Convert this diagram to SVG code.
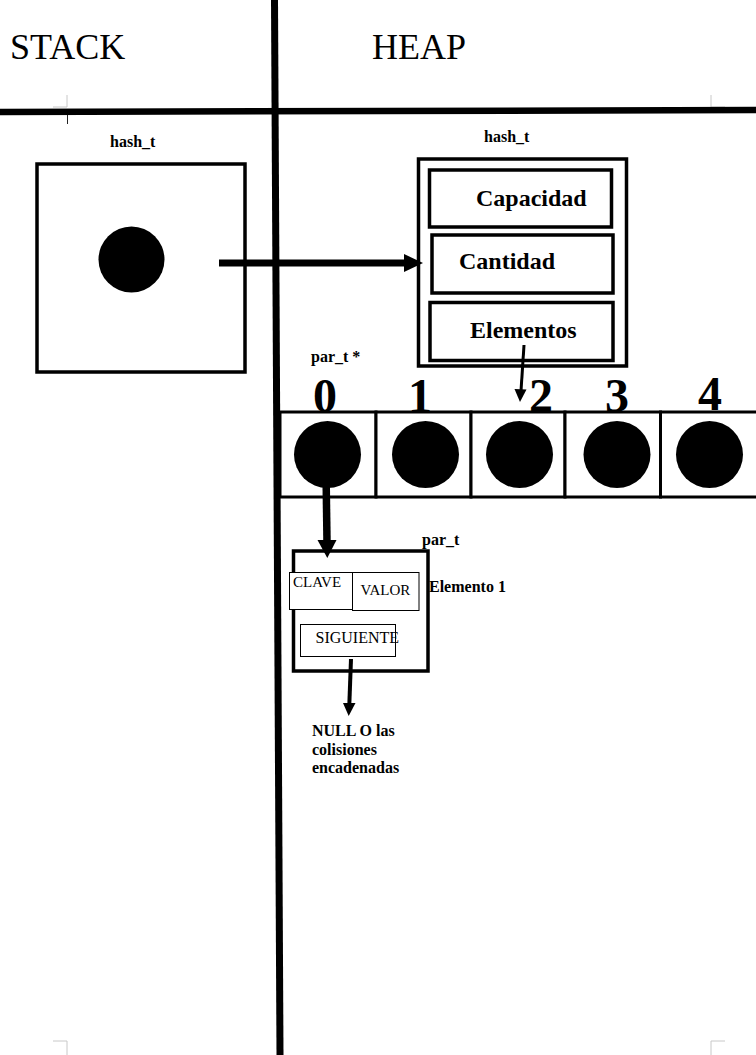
<svg xmlns="http://www.w3.org/2000/svg" width="756" height="1055" viewBox="0 0 756 1055">
  <style>
    .title { font-family: "Liberation Serif", serif; font-size: 36px; fill: #000; }
    .lbl { font-family: "Liberation Serif", serif; font-weight: bold; font-size: 16px; fill: #000; }
    .field { font-family: "Liberation Serif", serif; font-weight: bold; font-size: 24px; fill: #000; }
    .idx { font-family: "Liberation Serif", serif; font-weight: bold; font-size: 48px; fill: #000; text-anchor: middle; }
    .small { font-family: "Liberation Serif", serif; font-size: 15px; fill: #000; }
    .box { fill: #fff; stroke: #000; stroke-width: 3.5; }
    .cell { fill: #fff; stroke: #000; stroke-width: 3; }
    .thin { fill: #fff; stroke: #000; stroke-width: 1; }
    .mark { stroke: #c8c8c8; stroke-width: 1; fill: none; }
    .dot { fill: #000; }
  </style>
  <rect width="756" height="1055" fill="#fff"/>

  <!-- page corner marks -->
  <g id="corner-marks">
    <path class="mark" d="M53,107 H67 V95 M711,95 V107 H725 M53,1041 H67 V1055 M711,1055 V1041 H725"/>
    <path d="M67.5,115 V124" stroke="#222" stroke-width="1"/>
  </g>

  <!-- stack / heap division -->
  <g id="dividers">
    <line x1="0" y1="112" x2="756" y2="110" stroke="#000" stroke-width="6.5"/>
    <line x1="274.5" y1="0" x2="280" y2="1055" stroke="#000" stroke-width="7"/>
  </g>

  <text class="title" x="10" y="59">STACK</text>
  <text class="title" x="372" y="59">HEAP</text>

  <!-- hash_t on the stack -->
  <g id="stack-hash">
    <text class="lbl" x="110" y="147">hash_t</text>
    <rect class="box" x="37" y="164" width="208" height="208"/>
    <circle class="dot" cx="131.5" cy="259.5" r="33"/>
  </g>

  <!-- hash_t on the heap -->
  <g id="heap-hash">
    <text class="lbl" x="484" y="142">hash_t</text>
    <rect class="box" x="418.5" y="159" width="208" height="207"/>
    <g id="capacidad">
      <rect class="box" x="429.5" y="170" width="182" height="57"/>
      <text class="field" x="476" y="206">Capacidad</text>
    </g>
    <g id="cantidad">
      <rect class="box" x="432" y="235" width="181" height="58"/>
      <text class="field" x="459" y="269">Cantidad</text>
    </g>
    <g id="elementos">
      <rect class="box" x="430" y="302.5" width="183" height="58"/>
      <text class="field" x="470" y="338">Elementos</text>
    </g>
  </g>

  <!-- par_t * array -->
  <g id="array">
    <text class="lbl" x="311" y="362">par_t *</text>
    <g id="cell-0">
      <rect class="cell" x="280" y="412" width="96" height="85"/>
      <circle class="dot" cx="327.5" cy="454.5" r="33.5"/>
      <text class="idx" x="325" y="412">0</text>
    </g>
    <g id="cell-1">
      <rect class="cell" x="376" y="412" width="95" height="85"/>
      <circle class="dot" cx="425.5" cy="454.5" r="33.5"/>
      <text class="idx" x="420" y="412">1</text>
    </g>
    <g id="cell-2">
      <rect class="cell" x="471" y="412" width="94" height="85"/>
      <circle class="dot" cx="519.5" cy="454.5" r="33.5"/>
      <text class="idx" x="541" y="412">2</text>
    </g>
    <g id="cell-3">
      <rect class="cell" x="565" y="412" width="95.5" height="85"/>
      <circle class="dot" cx="617" cy="454.5" r="33.5"/>
      <text class="idx" x="617" y="412">3</text>
    </g>
    <g id="cell-4">
      <rect class="cell" x="660.5" y="412" width="120" height="85"/>
      <circle class="dot" cx="709.5" cy="454.5" r="33.5"/>
      <text class="idx" x="710" y="410">4</text>
    </g>
  </g>

  <!-- par_t element -->
  <g id="par-t">
    <text class="lbl" x="422" y="545">par_t</text>
    <rect class="box" x="293.5" y="551" width="134.5" height="120"/>
    <g id="clave">
      <rect class="thin" x="289.5" y="572.5" width="63" height="37"/>
      <text class="small" x="293" y="587">CLAVE</text>
    </g>
    <g id="valor">
      <rect class="thin" x="352.5" y="572.5" width="66.5" height="38"/>
      <text class="small" x="360.5" y="595">VALOR</text>
    </g>
    <g id="siguiente">
      <rect class="thin" x="300.5" y="624.5" width="95" height="32"/>
      <text class="small" x="315.5" y="643" style="font-size:16px">SIGUIENTE</text>
    </g>
    <text class="lbl" x="429" y="592">Elemento 1</text>
  </g>

  <g id="null-note">
    <text class="lbl" x="312" y="736">NULL O las</text>
    <text class="lbl" x="312" y="754.5">colisiones</text>
    <text class="lbl" x="312" y="773">encadenadas</text>
  </g>

  <!-- pointers -->
  <g id="connectors" fill="#000">
    <line x1="219" y1="263" x2="405" y2="263" stroke="#000" stroke-width="7"/>
    <polygon points="404,254 423,263 404,272"/>

    <line x1="524" y1="345" x2="521" y2="391" stroke="#000" stroke-width="3"/>
    <polygon points="514.5,389 526.5,389.5 520,402"/>

    <line x1="326" y1="470" x2="327" y2="542" stroke="#000" stroke-width="7.5"/>
    <polygon points="317.5,540 336.5,540 327.3,558"/>

    <line x1="351" y1="659" x2="349.3" y2="705" stroke="#000" stroke-width="4"/>
    <polygon points="343,703 355.5,703 348.7,716"/>
  </g>
</svg>
